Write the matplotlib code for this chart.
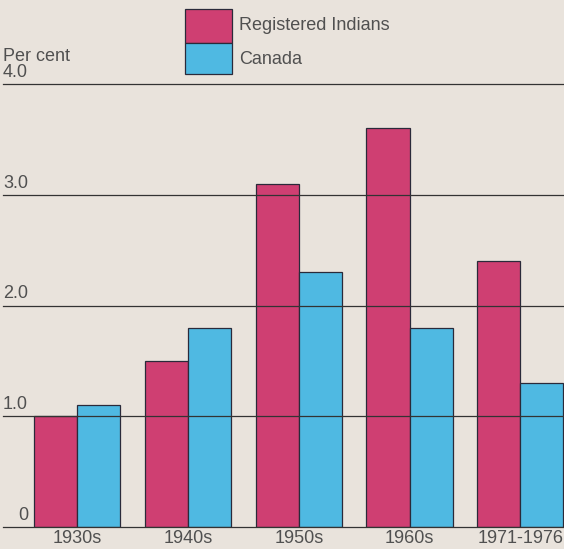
import numpy as np
import matplotlib.pyplot as plt

# Average annual growth rate, per cent
periods = ['1930s', '1940s', '1950s', '1960s', '1971-1976']
registered_indians = [1.0, 1.5, 3.1, 3.6, 2.4]
canada = [1.1, 1.8, 2.3, 1.8, 1.3]
yticks = [0, 1.0, 2.0, 3.0, 4.0]
ytick_labels = ['0', '1.0', '2.0', '3.0', '4.0']

bg = '#e9e3dc'
red = '#cf3f72'
blue = '#4fb9e2'
txt = '#505050'

plt.rcParams['font.family'] = ['Liberation Sans', 'DejaVu Sans']

fig = plt.figure(figsize=(5.64, 5.49), dpi=100, facecolor=bg)
ax = fig.add_axes([3 / 564, 22 / 549, 561 / 564, 443 / 549])
ax.set_facecolor(bg)

x = np.arange(len(periods))
w = 0.39
ax.bar(x - w / 2, registered_indians, w, color=red, edgecolor='#2a2a3a', linewidth=0.9, zorder=2)
ax.bar(x + w / 2, canada, w, color=blue, edgecolor='#2a2a3a', linewidth=0.9, zorder=2)

ax.set_xlim(-0.671, 4.395)
ax.set_ylim(0, 4.0)

for v, lab in zip(yticks, ytick_labels):
    ax.axhline(v, color='#333333', linewidth=0.9, zorder=3, clip_on=False)
    ax.annotate(lab, (0, v), xycoords=('axes fraction', 'data'), xytext=(25, 3),
                textcoords='offset pixels', ha='right', va='bottom', fontsize=13, color=txt)

ax.annotate('Per cent', (0, 4.0), xycoords=('axes fraction', 'data'), xytext=(0, 19),
            textcoords='offset pixels', ha='left', va='bottom', fontsize=13, color=txt)

for xi, lab in zip(x, periods):
    ax.annotate(lab, (xi, 0), xycoords='data', xytext=(0, -3), textcoords='offset pixels',
                ha='center', va='top', fontsize=13, color=txt, annotation_clip=False)

for s in ax.spines.values():
    s.set_visible(False)
ax.set_xticks([])
ax.set_yticks([])

# legend boxes
fig.patches.append(plt.Rectangle((185 / 564, 1 - 43 / 549), 47 / 564, 34 / 549,
                                 transform=fig.transFigure, facecolor=red, edgecolor='#2a2a3a', linewidth=0.9))
fig.patches.append(plt.Rectangle((185 / 564, 1 - 74 / 549), 47 / 564, 31 / 549,
                                 transform=fig.transFigure, facecolor=blue, edgecolor='#2a2a3a', linewidth=0.9))
fig.text(239 / 564, 1 - 25 / 549, 'Registered Indians', ha='left', va='center', fontsize=13, color=txt)
fig.text(239 / 564, 1 - 60 / 549, 'Canada', ha='left', va='center', fontsize=13, color=txt)

fig.savefig('out.png', dpi=100, facecolor=bg)
